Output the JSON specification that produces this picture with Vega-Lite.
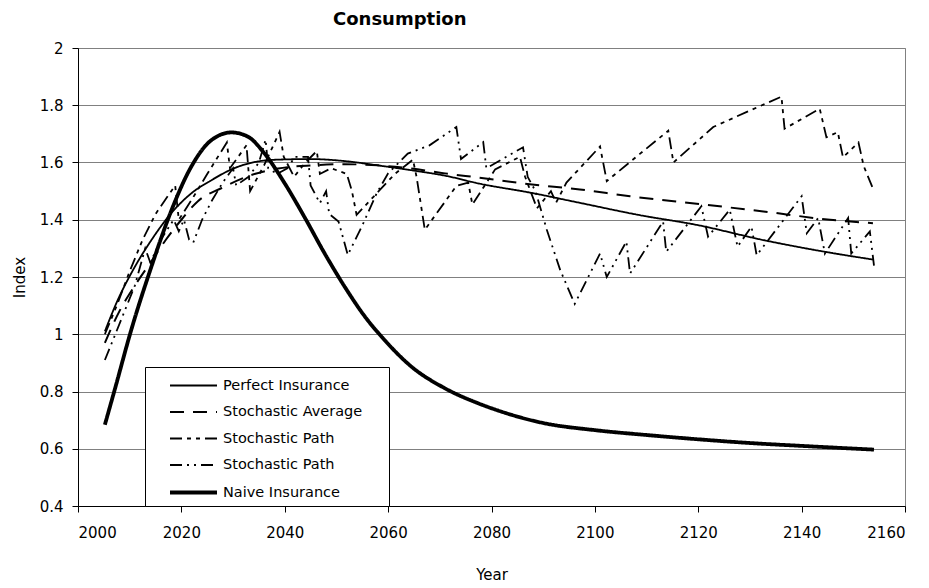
{
  "$schema": "https://vega.github.io/schema/vega-lite/v6.json",
  "width": 827,
  "height": 458,
  "autosize": {"type": "none"},
  "padding": {"left": 78, "top": 48, "right": 24, "bottom": 82},
  "background": "white",
  "title": {"text": "Consumption", "font": "DejaVu Sans", "fontSize": 18, "fontWeight": "bold", "anchor": "start", "frame": "group", "dx": 255, "dy": 18, "baseline": "alphabetic", "offset": 16, "color": "black"},
  "config": {
    "view": {"stroke": "#808080", "strokeWidth": 1},
    "axis": {"labelFont": "DejaVu Sans", "labelFontSize": 15, "labelColor": "black", "titleFont": "DejaVu Sans", "titleFontSize": 15, "titleFontWeight": "normal", "titleColor": "black", "domainColor": "black", "tickColor": "black", "tickSize": 6}
  },
  "datasets": {
    "smooth": [
      {"s": "Perfect Insurance", "x": 2005.2, "y": 1.01},
      {"s": "Perfect Insurance", "x": 2007.7, "y": 1.12},
      {"s": "Perfect Insurance", "x": 2010.3, "y": 1.213},
      {"s": "Perfect Insurance", "x": 2014.2, "y": 1.329},
      {"s": "Perfect Insurance", "x": 2018, "y": 1.422},
      {"s": "Perfect Insurance", "x": 2021.9, "y": 1.492},
      {"s": "Perfect Insurance", "x": 2025.8, "y": 1.538},
      {"s": "Perfect Insurance", "x": 2029.7, "y": 1.576},
      {"s": "Perfect Insurance", "x": 2033.5, "y": 1.599},
      {"s": "Perfect Insurance", "x": 2038.7, "y": 1.61},
      {"s": "Perfect Insurance", "x": 2045.1, "y": 1.612},
      {"s": "Perfect Insurance", "x": 2051.6, "y": 1.605},
      {"s": "Perfect Insurance", "x": 2058, "y": 1.59},
      {"s": "Perfect Insurance", "x": 2064.5, "y": 1.573},
      {"s": "Perfect Insurance", "x": 2071, "y": 1.554},
      {"s": "Perfect Insurance", "x": 2077.7, "y": 1.526},
      {"s": "Perfect Insurance", "x": 2087.4, "y": 1.495},
      {"s": "Perfect Insurance", "x": 2097.1, "y": 1.459},
      {"s": "Perfect Insurance", "x": 2108.7, "y": 1.416},
      {"s": "Perfect Insurance", "x": 2119.7, "y": 1.382},
      {"s": "Perfect Insurance", "x": 2132.6, "y": 1.329},
      {"s": "Perfect Insurance", "x": 2145.5, "y": 1.285},
      {"s": "Perfect Insurance", "x": 2153.8, "y": 1.261},
      {"s": "Stochastic Average", "x": 2005.2, "y": 0.97},
      {"s": "Stochastic Average", "x": 2008, "y": 1.08},
      {"s": "Stochastic Average", "x": 2011, "y": 1.17},
      {"s": "Stochastic Average", "x": 2014, "y": 1.25},
      {"s": "Stochastic Average", "x": 2017, "y": 1.33},
      {"s": "Stochastic Average", "x": 2020, "y": 1.4},
      {"s": "Stochastic Average", "x": 2023.2, "y": 1.465},
      {"s": "Stochastic Average", "x": 2027.7, "y": 1.51},
      {"s": "Stochastic Average", "x": 2033.5, "y": 1.556},
      {"s": "Stochastic Average", "x": 2038.7, "y": 1.579},
      {"s": "Stochastic Average", "x": 2045.2, "y": 1.59},
      {"s": "Stochastic Average", "x": 2051.6, "y": 1.594},
      {"s": "Stochastic Average", "x": 2058, "y": 1.59},
      {"s": "Stochastic Average", "x": 2064.5, "y": 1.579},
      {"s": "Stochastic Average", "x": 2071, "y": 1.562},
      {"s": "Stochastic Average", "x": 2077.7, "y": 1.547},
      {"s": "Stochastic Average", "x": 2087.4, "y": 1.524},
      {"s": "Stochastic Average", "x": 2097.1, "y": 1.506},
      {"s": "Stochastic Average", "x": 2106.8, "y": 1.482},
      {"s": "Stochastic Average", "x": 2119.7, "y": 1.456},
      {"s": "Stochastic Average", "x": 2132.6, "y": 1.429},
      {"s": "Stochastic Average", "x": 2145.5, "y": 1.4},
      {"s": "Stochastic Average", "x": 2153.8, "y": 1.388},
      {"s": "Naive Insurance", "x": 2005.2, "y": 0.684},
      {"s": "Naive Insurance", "x": 2007.1, "y": 0.806},
      {"s": "Naive Insurance", "x": 2010.3, "y": 1.015},
      {"s": "Naive Insurance", "x": 2014.2, "y": 1.236},
      {"s": "Naive Insurance", "x": 2018.1, "y": 1.434},
      {"s": "Naive Insurance", "x": 2021.9, "y": 1.585},
      {"s": "Naive Insurance", "x": 2025.8, "y": 1.678},
      {"s": "Naive Insurance", "x": 2029.7, "y": 1.705},
      {"s": "Naive Insurance", "x": 2032.9, "y": 1.69},
      {"s": "Naive Insurance", "x": 2036.1, "y": 1.631},
      {"s": "Naive Insurance", "x": 2040, "y": 1.527},
      {"s": "Naive Insurance", "x": 2043.8, "y": 1.41},
      {"s": "Naive Insurance", "x": 2047.7, "y": 1.283},
      {"s": "Naive Insurance", "x": 2051.6, "y": 1.166},
      {"s": "Naive Insurance", "x": 2055.5, "y": 1.062},
      {"s": "Naive Insurance", "x": 2059.3, "y": 0.98},
      {"s": "Naive Insurance", "x": 2064.5, "y": 0.887},
      {"s": "Naive Insurance", "x": 2070.9, "y": 0.812},
      {"s": "Naive Insurance", "x": 2077.4, "y": 0.759},
      {"s": "Naive Insurance", "x": 2081.2, "y": 0.734},
      {"s": "Naive Insurance", "x": 2090, "y": 0.69},
      {"s": "Naive Insurance", "x": 2100, "y": 0.665},
      {"s": "Naive Insurance", "x": 2110, "y": 0.648},
      {"s": "Naive Insurance", "x": 2120, "y": 0.633},
      {"s": "Naive Insurance", "x": 2130, "y": 0.62},
      {"s": "Naive Insurance", "x": 2140, "y": 0.61},
      {"s": "Naive Insurance", "x": 2154, "y": 0.597}
    ],
    "paths": [
      {"s": "Stochastic Path 1", "x": 2005.2, "y": 1.0},
      {"s": "Stochastic Path 1", "x": 2007.5, "y": 1.1},
      {"s": "Stochastic Path 1", "x": 2010, "y": 1.22},
      {"s": "Stochastic Path 1", "x": 2012.5, "y": 1.33},
      {"s": "Stochastic Path 1", "x": 2015, "y": 1.42},
      {"s": "Stochastic Path 1", "x": 2018.8, "y": 1.52},
      {"s": "Stochastic Path 1", "x": 2019.5, "y": 1.4},
      {"s": "Stochastic Path 1", "x": 2022, "y": 1.47},
      {"s": "Stochastic Path 1", "x": 2025, "y": 1.56},
      {"s": "Stochastic Path 1", "x": 2028.8, "y": 1.67},
      {"s": "Stochastic Path 1", "x": 2029.4, "y": 1.58},
      {"s": "Stochastic Path 1", "x": 2032.6, "y": 1.66},
      {"s": "Stochastic Path 1", "x": 2033.3, "y": 1.5},
      {"s": "Stochastic Path 1", "x": 2036, "y": 1.59},
      {"s": "Stochastic Path 1", "x": 2039, "y": 1.707},
      {"s": "Stochastic Path 1", "x": 2039.8, "y": 1.62},
      {"s": "Stochastic Path 1", "x": 2041.8, "y": 1.55},
      {"s": "Stochastic Path 1", "x": 2044, "y": 1.6},
      {"s": "Stochastic Path 1", "x": 2046.2, "y": 1.64},
      {"s": "Stochastic Path 1", "x": 2046.8, "y": 1.56},
      {"s": "Stochastic Path 1", "x": 2049, "y": 1.58},
      {"s": "Stochastic Path 1", "x": 2052, "y": 1.56},
      {"s": "Stochastic Path 1", "x": 2053, "y": 1.5},
      {"s": "Stochastic Path 1", "x": 2053.9, "y": 1.417},
      {"s": "Stochastic Path 1", "x": 2058.4, "y": 1.504},
      {"s": "Stochastic Path 1", "x": 2061.3, "y": 1.56},
      {"s": "Stochastic Path 1", "x": 2064.8, "y": 1.61},
      {"s": "Stochastic Path 1", "x": 2065.5, "y": 1.55},
      {"s": "Stochastic Path 1", "x": 2067.1, "y": 1.365},
      {"s": "Stochastic Path 1", "x": 2073.2, "y": 1.518},
      {"s": "Stochastic Path 1", "x": 2075.5, "y": 1.53},
      {"s": "Stochastic Path 1", "x": 2076.3, "y": 1.453},
      {"s": "Stochastic Path 1", "x": 2080.7, "y": 1.576},
      {"s": "Stochastic Path 1", "x": 2085.5, "y": 1.62},
      {"s": "Stochastic Path 1", "x": 2086.5, "y": 1.55},
      {"s": "Stochastic Path 1", "x": 2088.8, "y": 1.44},
      {"s": "Stochastic Path 1", "x": 2091.5, "y": 1.5},
      {"s": "Stochastic Path 1", "x": 2092.5, "y": 1.46},
      {"s": "Stochastic Path 1", "x": 2094.5, "y": 1.53},
      {"s": "Stochastic Path 1", "x": 2101, "y": 1.656},
      {"s": "Stochastic Path 1", "x": 2102.3, "y": 1.535},
      {"s": "Stochastic Path 1", "x": 2108.7, "y": 1.63},
      {"s": "Stochastic Path 1", "x": 2114.2, "y": 1.711},
      {"s": "Stochastic Path 1", "x": 2115.2, "y": 1.6},
      {"s": "Stochastic Path 1", "x": 2122.9, "y": 1.724},
      {"s": "Stochastic Path 1", "x": 2129.3, "y": 1.776},
      {"s": "Stochastic Path 1", "x": 2136.1, "y": 1.83},
      {"s": "Stochastic Path 1", "x": 2136.7, "y": 1.718},
      {"s": "Stochastic Path 1", "x": 2143.5, "y": 1.788},
      {"s": "Stochastic Path 1", "x": 2144.8, "y": 1.688},
      {"s": "Stochastic Path 1", "x": 2147, "y": 1.706},
      {"s": "Stochastic Path 1", "x": 2148, "y": 1.618},
      {"s": "Stochastic Path 1", "x": 2151, "y": 1.67},
      {"s": "Stochastic Path 1", "x": 2152, "y": 1.588},
      {"s": "Stochastic Path 1", "x": 2154, "y": 1.5},
      {"s": "Stochastic Path 2", "x": 2005.2, "y": 0.91},
      {"s": "Stochastic Path 2", "x": 2007, "y": 0.99},
      {"s": "Stochastic Path 2", "x": 2009, "y": 1.08},
      {"s": "Stochastic Path 2", "x": 2011, "y": 1.17},
      {"s": "Stochastic Path 2", "x": 2013, "y": 1.3},
      {"s": "Stochastic Path 2", "x": 2014, "y": 1.25},
      {"s": "Stochastic Path 2", "x": 2016, "y": 1.33},
      {"s": "Stochastic Path 2", "x": 2018.5, "y": 1.4},
      {"s": "Stochastic Path 2", "x": 2019.5, "y": 1.36},
      {"s": "Stochastic Path 2", "x": 2020.5, "y": 1.4},
      {"s": "Stochastic Path 2", "x": 2021.5, "y": 1.33},
      {"s": "Stochastic Path 2", "x": 2022.3, "y": 1.32},
      {"s": "Stochastic Path 2", "x": 2024, "y": 1.4},
      {"s": "Stochastic Path 2", "x": 2026, "y": 1.47},
      {"s": "Stochastic Path 2", "x": 2028, "y": 1.53},
      {"s": "Stochastic Path 2", "x": 2030, "y": 1.58},
      {"s": "Stochastic Path 2", "x": 2030.6, "y": 1.52},
      {"s": "Stochastic Path 2", "x": 2033, "y": 1.55},
      {"s": "Stochastic Path 2", "x": 2035, "y": 1.6},
      {"s": "Stochastic Path 2", "x": 2036.3, "y": 1.68},
      {"s": "Stochastic Path 2", "x": 2036.8, "y": 1.58},
      {"s": "Stochastic Path 2", "x": 2038.5, "y": 1.56},
      {"s": "Stochastic Path 2", "x": 2040.5, "y": 1.58},
      {"s": "Stochastic Path 2", "x": 2042, "y": 1.62},
      {"s": "Stochastic Path 2", "x": 2044.5, "y": 1.62},
      {"s": "Stochastic Path 2", "x": 2045, "y": 1.52},
      {"s": "Stochastic Path 2", "x": 2046.8, "y": 1.458},
      {"s": "Stochastic Path 2", "x": 2048, "y": 1.5},
      {"s": "Stochastic Path 2", "x": 2048.6, "y": 1.42},
      {"s": "Stochastic Path 2", "x": 2050.4, "y": 1.394},
      {"s": "Stochastic Path 2", "x": 2052.2, "y": 1.277},
      {"s": "Stochastic Path 2", "x": 2055, "y": 1.38},
      {"s": "Stochastic Path 2", "x": 2057.8, "y": 1.493},
      {"s": "Stochastic Path 2", "x": 2060, "y": 1.562},
      {"s": "Stochastic Path 2", "x": 2063.8, "y": 1.631},
      {"s": "Stochastic Path 2", "x": 2068, "y": 1.66},
      {"s": "Stochastic Path 2", "x": 2073.2, "y": 1.724},
      {"s": "Stochastic Path 2", "x": 2074.1, "y": 1.612},
      {"s": "Stochastic Path 2", "x": 2078.4, "y": 1.671},
      {"s": "Stochastic Path 2", "x": 2079, "y": 1.58},
      {"s": "Stochastic Path 2", "x": 2086.1, "y": 1.653},
      {"s": "Stochastic Path 2", "x": 2087, "y": 1.55},
      {"s": "Stochastic Path 2", "x": 2088.5, "y": 1.5},
      {"s": "Stochastic Path 2", "x": 2090.7, "y": 1.365},
      {"s": "Stochastic Path 2", "x": 2093.3, "y": 1.224},
      {"s": "Stochastic Path 2", "x": 2096.1, "y": 1.106},
      {"s": "Stochastic Path 2", "x": 2101, "y": 1.282},
      {"s": "Stochastic Path 2", "x": 2102.3, "y": 1.2},
      {"s": "Stochastic Path 2", "x": 2106.1, "y": 1.324},
      {"s": "Stochastic Path 2", "x": 2106.8, "y": 1.212},
      {"s": "Stochastic Path 2", "x": 2113.2, "y": 1.394},
      {"s": "Stochastic Path 2", "x": 2113.8, "y": 1.288},
      {"s": "Stochastic Path 2", "x": 2120.6, "y": 1.447},
      {"s": "Stochastic Path 2", "x": 2121.9, "y": 1.341},
      {"s": "Stochastic Path 2", "x": 2126.1, "y": 1.435},
      {"s": "Stochastic Path 2", "x": 2127.6, "y": 1.306},
      {"s": "Stochastic Path 2", "x": 2130.3, "y": 1.376},
      {"s": "Stochastic Path 2", "x": 2131.3, "y": 1.276},
      {"s": "Stochastic Path 2", "x": 2140, "y": 1.482},
      {"s": "Stochastic Path 2", "x": 2141, "y": 1.353},
      {"s": "Stochastic Path 2", "x": 2143.2, "y": 1.406},
      {"s": "Stochastic Path 2", "x": 2144.5, "y": 1.282},
      {"s": "Stochastic Path 2", "x": 2149, "y": 1.406},
      {"s": "Stochastic Path 2", "x": 2149.6, "y": 1.282},
      {"s": "Stochastic Path 2", "x": 2153.2, "y": 1.359},
      {"s": "Stochastic Path 2", "x": 2154, "y": 1.24}
    ]
  },
  "encoding": {
    "x": {"field": "x", "type": "quantitative", "scale": {"domain": [2000, 2160], "nice": false, "zero": false},
      "axis": {"title": "Year", "values": [2000, 2020, 2040, 2060, 2080, 2100, 2120, 2140, 2160], "format": "d", "grid": false, "labelPadding": 13, "titlePadding": 27}},
    "y": {"field": "y", "type": "quantitative", "scale": {"domain": [0.4, 2], "nice": false, "zero": false},
      "axis": {"title": "Index", "values": [0.4, 0.6, 0.8, 1, 1.2, 1.4, 1.6, 1.8, 2], "format": "~g", "grid": true, "gridColor": "#808080", "gridWidth": 1, "labelPadding": 9, "titlePadding": 12}},
    "color": {"field": "s", "type": "nominal",
      "scale": {"domain": ["Perfect Insurance", "Stochastic Average", "Stochastic Path 1", "Stochastic Path 2", "Naive Insurance"], "range": ["#000000", "#000000", "#000000", "#000000", "#000000"]},
      "legend": {"title": null, "orient": "none", "legendX": 67, "legendY": 319, "padding": 5, "rowPadding": 6.5, "strokeColor": "#000000", "fillColor": "#ffffff", "symbolType": "M0.44,0H4.2", "symbolSize": 625, "symbolFillColor": "transparent", "labelFont": "DejaVu Sans", "labelFontSize": 14.5, "labelColor": "black", "labelOffset": 44, "labelLimit": 400,
        "labelExpr": "(indexof(datum.label, 'Path') >= 0 ? 'Stochastic Path' : datum.label) + '\u2800\u2800'"}},
    "strokeDash": {"field": "s", "type": "nominal",
      "scale": {"domain": ["Perfect Insurance", "Stochastic Average", "Stochastic Path 1", "Stochastic Path 2", "Naive Insurance"], "range": [[1, 0], [14, 9], [12, 5, 4, 5, 4, 5], [12, 5, 2, 5, 2, 5], [1, 0]]},
      "legend": {"title": null, "orient": "none", "legendX": 67, "legendY": 319, "padding": 5, "rowPadding": 6.5, "strokeColor": "#000000", "fillColor": "#ffffff", "symbolType": "M0.44,0H4.2", "symbolSize": 625, "symbolFillColor": "transparent", "labelFont": "DejaVu Sans", "labelFontSize": 14.5, "labelColor": "black", "labelOffset": 44, "labelLimit": 400,
        "labelExpr": "(indexof(datum.label, 'Path') >= 0 ? 'Stochastic Path' : datum.label) + '\u2800\u2800'"}},
    "strokeWidth": {"field": "s", "type": "ordinal",
      "scale": {"type": "ordinal", "domain": ["Perfect Insurance", "Stochastic Average", "Stochastic Path 1", "Stochastic Path 2", "Naive Insurance"], "range": [1.8, 2, 1.8, 1.8, 3.8]},
      "legend": {"title": null, "orient": "none", "legendX": 67, "legendY": 319, "padding": 5, "rowPadding": 6.5, "strokeColor": "#000000", "fillColor": "#ffffff", "symbolType": "M0.44,0H4.2", "symbolSize": 625, "symbolFillColor": "transparent", "labelFont": "DejaVu Sans", "labelFontSize": 14.5, "labelColor": "black", "labelOffset": 44, "labelLimit": 400,
        "labelExpr": "(indexof(datum.label, 'Path') >= 0 ? 'Stochastic Path' : datum.label) + '\u2800\u2800'"}}
  },
  "layer": [
    {"data": {"name": "paths"}, "mark": {"type": "line", "interpolate": "linear", "strokeCap": "butt"}},
    {"data": {"name": "smooth"}, "mark": {"type": "line", "interpolate": "monotone", "strokeCap": "butt"}}
  ]
}
